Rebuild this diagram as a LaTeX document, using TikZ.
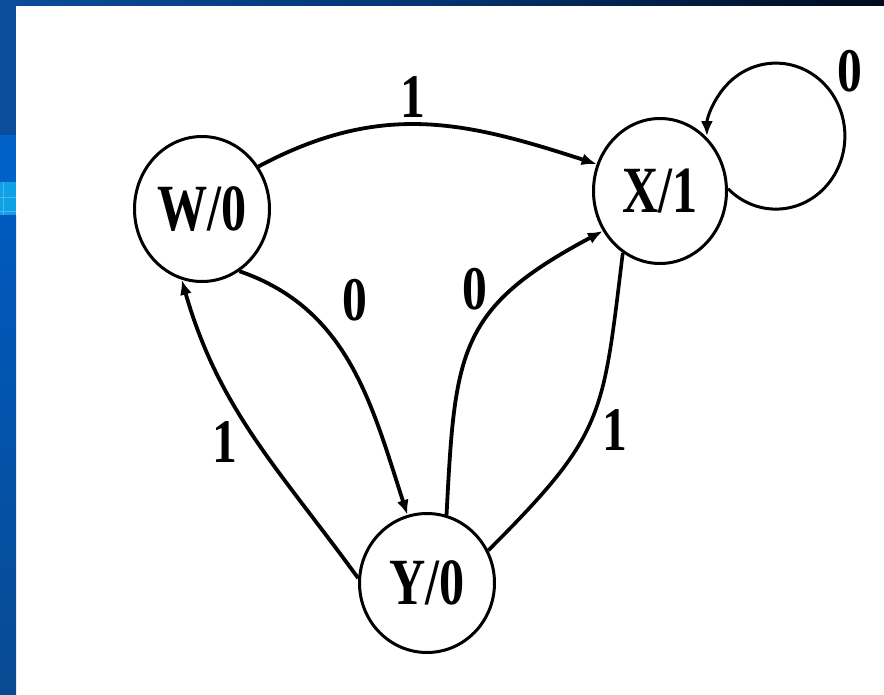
\documentclass[tikz,border=0pt]{standalone}
\usepackage{fontspec}
\setmainfont{Liberation Serif}
\usetikzlibrary{shapes.geometric,arrows.meta}
\definecolor{topL}{HTML}{0B4C9C}
\definecolor{topM}{HTML}{023470}
\definecolor{topR}{HTML}{000A1C}
\definecolor{stripA}{HTML}{0B4C9C}
\definecolor{stripB}{HTML}{0062C8}
\definecolor{stripC}{HTML}{10A0E6}
\definecolor{stripD}{HTML}{005ABE}
\definecolor{stripE}{HTML}{084A92}
\newcommand{\sqz}[1]{\scalebox{0.76}[1]{\bfseries #1}}
\newcommand{\sqd}[1]{\scalebox{0.8}[1]{\bfseries #1}}
\begin{document}
\begin{tikzpicture}[x=1pt,y=1pt,
  state/.style={ellipse, draw, line width=3pt, inner sep=0pt,
    font=\fontsize{66}{66}\selectfont},
  edge/.style={line width=3.8pt, -{Latex[length=15pt,width=12pt]}},
  plain/.style={line width=3.6pt},
  lbl/.style={font=\fontsize{62}{62}\selectfont, inner sep=0pt}]
\useasboundingbox (0,0) rectangle (884,-694);
% background
\fill[white] (0,0) rectangle (884,-694);
\shade[left color=topL, right color=topR, middle color=topM] (0,0) rectangle (884,-5);
\fill[stripA] (0,0) rectangle (16,-135);
\fill[stripB] (0,-135) rectangle (16,-182);
\fill[stripC] (0,-182) rectangle (16,-215);
\draw[white, opacity=0.25, line width=0.6pt] (3,-182) -- (3,-215) (0,-197) -- (16,-197) (0,-211) -- (16,-211);
\shade[top color=stripD, bottom color=stripE] (0,-215) rectangle (16,-694);
% states
\node[state, minimum width=135pt, minimum height=145pt] (W) at (202,-209) {\sqz{W/0}};
\node[state, minimum width=133pt, minimum height=145pt] (X) at (660,-191) {\sqz{X/1}};
\node[state, minimum width=135pt, minimum height=139pt] (Y) at (427,-583) {\sqz{Y/0}};
% transitions
\draw[edge] (W.37) to[out=28, in=162, looseness=1.05] (X.157);
\draw[edge] (W.301) to[out=-19, in=108] (Y.106);
\draw[edge] (Y.176) to[out=126, in=286] (W.254);
\draw[edge] (Y.74) to[out=87, in=208, looseness=1.3] (X.215);
\draw[plain] (X.239) to[out=263, in=45, looseness=1.3] (Y.28);
\draw[line width=3pt, -{Latex[length=15pt,width=12pt]}] (X.2) arc[start angle=-134, end angle=180, x radius=69, y radius=73];
% labels
\node[lbl] (l1) at (413,-97) {\sqd{1}};
\node[lbl] (l2) at (355,-300) {\sqd{0}};
\node[lbl] (l3) at (225,-442) {\sqd{1}};
\node[lbl] (l4) at (475,-289) {\sqd{0}};
\node[lbl] (l5) at (615,-430) {\sqd{1}};
\node[lbl] (l6) at (850,-71) {\sqd{0}};
\end{tikzpicture}
\end{document}
